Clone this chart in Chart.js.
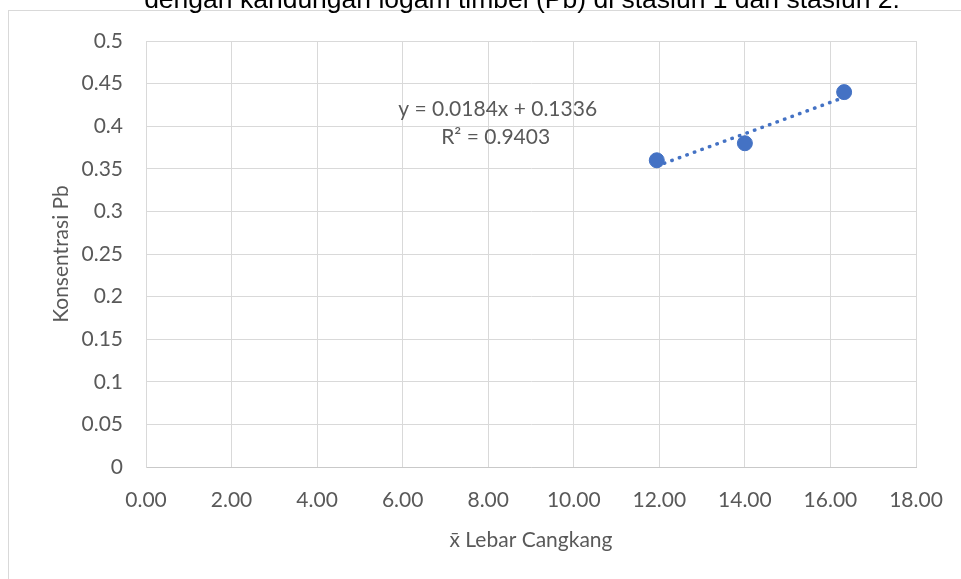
<!DOCTYPE html>
<html>
<head>
<meta charset="utf-8">
<script src="https://cdn.jsdelivr.net/npm/chart.js@4/dist/chart.umd.min.js"></script>
<style>
  html, body { margin: 0; padding: 0; background: #ffffff; }
  canvas { display: block; }
</style>
</head>
<body>
<canvas id="chart" width="961" height="579"></canvas>
<script>
// Mean shell width (x) against Pb concentration (y), with linear trendline
const lebarCangkang = [11.94, 14.00, 16.32];
const konsentrasiPb = [0.36, 0.38, 0.44];

// Linear trendline coefficients and fit quality
const trendSlope = 0.0184;
const trendIntercept = 0.1336;
const rSquared = 0.9403;

const xTickLabels = ['0.00', '2.00', '4.00', '6.00', '8.00', '10.00', '12.00', '14.00', '16.00', '18.00'];
const yTickLabels = ['0', '0.05', '0.1', '0.15', '0.2', '0.25', '0.3', '0.35', '0.4', '0.45', '0.5'];

const captionText = 'dengan kandungan logam timbel (Pb) di stasiun 1 dan stasiun 2.';
const xTitle = 'x\u0304 Lebar Cangkang';
const yTitle = 'Konsentrasi Pb';

const points = lebarCangkang.map((x, i) => ({ x: x, y: konsentrasiPb[i] }));
const xMin = Math.min(...lebarCangkang);
const xMax = Math.max(...lebarCangkang);
const trendPoints = [
  { x: xMin, y: trendSlope * xMin + trendIntercept },
  { x: xMax, y: trendSlope * xMax + trendIntercept }
];

const labelFont = 'Lato';
const labelSize = 21;
const textGray = '#595959';
const gridGray = '#d9d9d9';
const markBlue = '#4472C4';

// Outer frame and the caption line above it
const framePlugin = {
  id: 'frame',
  beforeDraw(chart) {
    const ctx = chart.ctx;
    ctx.save();
    ctx.strokeStyle = gridGray;
    ctx.lineWidth = 1;
    ctx.strokeRect(8.5, 10.5, 1200, 1200);
    ctx.fillStyle = '#000000';
    ctx.font = '26.5px "Liberation Sans", Arial, sans-serif';
    ctx.textAlign = 'center';
    ctx.textBaseline = 'alphabetic';
    ctx.fillText(captionText, 522, 8);
    ctx.restore();
  }
};

// Trendline equation and R² label
const equationPlugin = {
  id: 'equation',
  afterDatasetsDraw(chart) {
    const ctx = chart.ctx;
    const xs = chart.scales.x, ys = chart.scales.y;
    const cx = xs.getPixelForValue(8.22);
    ctx.save();
    ctx.fillStyle = textGray;
    ctx.font = labelSize + 'px ' + labelFont;
    ctx.textAlign = 'center';
    ctx.textBaseline = 'middle';
    ctx.fillText('y = ' + trendSlope + 'x + ' + trendIntercept, cx, ys.getPixelForValue(0.42));
    ctx.fillText('R\u00B2 = ' + rSquared, cx - 2, ys.getPixelForValue(0.387));
    ctx.restore();
  }
};

new Chart(document.getElementById('chart'), {
  type: 'scatter',
  data: {
    datasets: [
      {
        label: 'Konsentrasi Pb',
        data: points,
        backgroundColor: markBlue,
        borderColor: markBlue,
        pointRadius: 7.5,
        pointHoverRadius: 7.5,
        order: 1
      },
      {
        label: 'Linear',
        data: trendPoints,
        showLine: true,
        borderColor: markBlue,
        borderWidth: 3.5,
        borderDash: [0.5, 7.5],
        borderCapStyle: 'round',
        pointRadius: 0,
        fill: false,
        order: 2
      }
    ]
  },
  options: {
    responsive: false,
    animation: false,
    devicePixelRatio: 1,
    layout: { padding: { top: 41, right: 45, left: 0, bottom: 0 } },
    plugins: {
      legend: { display: false },
      tooltip: { enabled: false }
    },
    scales: {
      x: {
        type: 'linear',
        min: 0,
        max: 18,
        afterFit(scale) {
          scale.height = 112;
          scale.paddingLeft = 0;
          scale.paddingRight = 0;
        },
        afterBuildTicks(scale) {
          scale.ticks = xTickLabels.map((t, i) => ({ value: i * 2 }));
        },
        ticks: {
          color: textGray,
          font: { family: labelFont, size: labelSize },
          padding: 21,
          maxRotation: 0,
          autoSkip: false,
          callback: (v, i) => xTickLabels[i]
        },
        grid: { color: gridGray, lineWidth: 1, drawTicks: false },
        border: { color: '#c9c9c9', width: 1 },
        title: {
          display: true,
          text: xTitle,
          color: textGray,
          font: { family: labelFont, size: labelSize },
          padding: { top: 0, bottom: 26 }
        }
      },
      y: {
        type: 'linear',
        min: 0,
        max: 0.5,
        afterFit(scale) {
          scale.width = 146;
          scale.paddingTop = 0;
          scale.paddingBottom = 0;
        },
        afterBuildTicks(scale) {
          scale.ticks = yTickLabels.map((t, i) => ({ value: i * 0.05 }));
        },
        ticks: {
          color: textGray,
          font: { family: labelFont, size: labelSize },
          padding: 23,
          autoSkip: false,
          callback: (v, i) => yTickLabels[i]
        },
        grid: { color: gridGray, lineWidth: 1, drawTicks: false },
        border: { color: gridGray, width: 1 },
        title: {
          display: true,
          text: yTitle,
          color: textGray,
          font: { family: labelFont, size: labelSize },
          padding: { top: 49, bottom: 0 }
        }
      }
    }
  },
  plugins: [framePlugin, equationPlugin]
});
</script>
</body>
</html>
